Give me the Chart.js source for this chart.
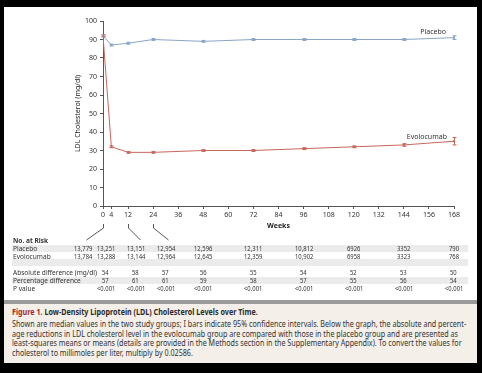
<!DOCTYPE html>
<html><head><meta charset="utf-8">
<script src="https://cdn.jsdelivr.net/npm/chart.js@4"></script>
<style>
html,body{margin:0;padding:0;background:#000;width:482px;height:373px;overflow:hidden;font-family:"Noto Sans",sans-serif;}
#panel{position:absolute;left:4px;top:7px;width:473px;height:293px;background:#fff;}
#strip{position:absolute;left:4px;top:300px;width:473px;height:4px;background:#9a9a9a;}
#caption{position:absolute;left:4px;top:304px;width:473px;height:59px;background:#f4efe8;color:#333;overflow:hidden;}
#wrap{position:absolute;left:0;top:0;width:482px;height:245px;}
.cell{position:absolute;font-size:7.5px;color:#333;white-space:nowrap;line-height:8px;transform-origin:0 50%;}
.band{position:absolute;left:12px;width:456px;height:7px;background:#ebebeb;}
.cl{position:absolute;left:8px;font-size:8.5px;white-space:nowrap;line-height:9.6px;color:#333;transform-origin:0 50%;}
.cl.t{font-weight:bold;color:#2b2b2b;}
</style></head>
<body>
<div id="panel"></div>
<div id="strip"></div>
<div id="caption">
<div class="cl t" id="capTitle" style="top:3px"><span style="color:#a8272b">Figure 1.</span> Low-Density Lipoprotein (LDL) Cholesterol Levels over Time.</div>
<div class="cl" id="cap1" style="top:15.2px">Shown are median values in the two study groups; I bars indicate 95% confidence intervals. Below the graph, the absolute and percent-</div>
<div class="cl" style="top:24.8px">age reductions in LDL cholesterol level in the evolocumab group are compared with those in the placebo group and are presented as</div>
<div class="cl" style="top:34.4px">least-squares means or means (details are provided in the Methods section in the Supplementary Appendix). To convert the values for</div>
<div class="cl" style="top:44px">cholesterol to millimoles per liter, multiply by 0.02586.</div>
</div>
<div id="wrap"><canvas id="c" width="482" height="245"></canvas></div>
<div id="table"></div>
<script>
// ---- data ----
const weeks = [0, 4, 12, 24, 48, 72, 96, 120, 144, 168];
const placeboLDL = [92, 87, 88, 90, 89, 90, 90, 90, 90, 91];
const placeboLo  = [91.5, 86.5, 87.5, 89.5, 88.5, 89.5, 89.5, 89.5, 89.5, 90];
const placeboHi  = [92.5, 87.5, 88.5, 90.5, 89.5, 90.5, 90.5, 90.5, 90.5, 92];
const evoLDL = [92, 32, 29, 29, 30, 30, 31, 32, 33, 35];
const evoLo  = [91.5, 31.5, 28.5, 28.5, 29.5, 29.5, 30.5, 31.5, 32.3, 33];
const evoHi  = [92.5, 32.5, 29.5, 29.5, 30.5, 30.5, 31.5, 32.5, 33.7, 37];
const xTicks = [0, 4, 12, 24, 36, 48, 60, 72, 84, 96, 108, 120, 132, 144, 156, 168];
const yTicks = [0, 10, 20, 30, 40, 50, 60, 70, 80, 90, 100];
const placeboRisk = ["13,779", "13,251", "13,151", "12,954", "12,596", "12,311", "10,812", "6926", "3352", "790"];
const evoRisk     = ["13,784", "13,288", "13,144", "12,964", "12,645", "12,359", "10,902", "6958", "3323", "768"];
const diffWeeks = [4, 12, 24, 48, 72, 96, 120, 144, 168];
const absDiff = ["54", "58", "57", "56", "55", "54", "52", "53", "50"];
const pctDiff = ["57", "61", "61", "59", "58", "57", "55", "56", "54"];
const pValue  = ["<0.001", "<0.001", "<0.001", "<0.001", "<0.001", "<0.001", "<0.001", "<0.001", "<0.001"];

const F = '"Noto Sans",sans-serif';
const AX = '#555';

const extras = {
  id: 'extras',
  afterDatasetsDraw(chart) {
    const c = chart.ctx, ys = chart.scales.y, xs = chart.scales.x;
    chart.data.datasets.forEach((ds, di) => {
      const meta = chart.getDatasetMeta(di);
      c.save();
      c.strokeStyle = ds.borderColor; c.lineWidth = 1;
      meta.data.forEach((pt, i) => {
        const x = Math.round(pt.x) + 0.5;
        const y1 = ys.getPixelForValue(ds.lo[i]), y2 = ys.getPixelForValue(ds.hi[i]);
        c.beginPath();
        c.moveTo(x, y1); c.lineTo(x, y2);
        c.moveTo(x - 2, y1); c.lineTo(x + 2, y1);
        c.moveTo(x - 2, y2); c.lineTo(x + 2, y2);
        c.stroke();
      });
      c.restore();
    });
    c.save();
    c.fillStyle = '#333'; c.font = '7px ' + F; c.textAlign = 'center'; c.textBaseline = 'middle';
    c.fillText('Placebo', xs.getPixelForValue(158), ys.getPixelForValue(94));
    c.fillText('Evolocumab', xs.getPixelForValue(155), ys.getPixelForValue(37.3));
    c.restore();
  },
  afterDraw(chart) {
    const c = chart.ctx, xs = chart.scales.x, b = chart.chartArea.bottom;
    const leaders = [[0, -17], [12, 12], [24, 15]];
    c.save(); c.strokeStyle = '#555'; c.lineWidth = 1;
    leaders.forEach(([w, dx]) => {
      const x = Math.round(xs.getPixelForValue(w)) + 0.5;
      c.beginPath(); c.moveTo(x, b + 18); c.lineTo(x, b + 22); c.lineTo(x + dx, b + 34); c.stroke();
    });
    c.restore();
  }
};

const chart = new Chart(document.getElementById('c'), {
  type: 'line',
  data: { datasets: [
    { label: 'Placebo', data: weeks.map((w, i) => ({x: w, y: placeboLDL[i]})), lo: placeboLo, hi: placeboHi,
      borderColor: '#8aa5c6', backgroundColor: '#8aa5c6', borderWidth: 1, pointRadius: 1.2, pointBorderWidth: 0, tension: 0 },
    { label: 'Evolocumab', data: weeks.map((w, i) => ({x: w, y: evoLDL[i]})), lo: evoLo, hi: evoHi,
      borderColor: '#c8675c', backgroundColor: '#c8675c', borderWidth: 1, pointRadius: 1.2, pointBorderWidth: 0, tension: 0 }
  ]},
  options: {
    responsive: false, animation: false, events: [],
    layout: { padding: { left: 70, right: 28, top: 21, bottom: 10 } },
    plugins: { legend: { display: false }, tooltip: { enabled: false } },
    scales: {
      x: {
        type: 'linear', min: 0, max: 168,
        afterBuildTicks: s => { s.ticks = xTicks.map(v => ({ value: v })); },
        grid: { drawOnChartArea: false, drawTicks: true, tickLength: 3, color: AX },
        border: { display: true, color: AX, width: 1 },
        ticks: { font: { size: 7, family: F }, color: '#333', padding: 2, maxRotation: 0, autoSkip: false },
        title: { display: true, text: 'Weeks', font: { size: 7, weight: 'bold', family: F }, color: '#222', padding: { top: 0, bottom: 5 } },
        afterFit: s => { s.height = 29; s.paddingLeft = 0; s.paddingRight = 0; }
      },
      y: {
        type: 'linear', min: 0, max: 100,
        afterBuildTicks: s => { s.ticks = yTicks.map(v => ({ value: v })); },
        grid: { drawOnChartArea: false, drawTicks: true, tickLength: 3, color: AX },
        border: { display: true, color: AX, width: 1 },
        ticks: { font: { size: 7, family: F }, color: '#333', padding: 3 },
        title: { display: true, text: 'LDL Cholesterol (mg/dl)', font: { size: 7, family: F }, color: '#222' },
        afterFit: s => { s.width = 33; s.paddingTop = 0; s.paddingBottom = 0; }
      }
    }
  },
  plugins: [extras]
});

// ---- caption: condense text to the reference line length ----
const capScale = 454 / document.getElementById('cap1').offsetWidth;
document.querySelectorAll('.cl').forEach(el => { el.style.transform = 'scaleX(' + capScale + ')'; });

// ---- table under the chart ----
const tbl = document.getElementById('table');
const xs = chart.scales.x;
const earlyCols = [83, 106, 136, 166];
const colX = weeks.map((w, i) => i < earlyCols.length ? earlyCols[i] : xs.getPixelForValue(w));
function band(top) { const d = document.createElement('div'); d.className = 'band'; d.style.top = top + 'px'; tbl.appendChild(d); }
const cells = [];
function cell(text, x, yc, kind, bold) {
  const d = document.createElement('div'); d.className = 'cell'; d.textContent = text;
  d.style.top = (yc - 4) + 'px';
  if (bold) d.style.fontWeight = 'bold';
  tbl.appendChild(d);
  cells.push({ d, x, kind });
  return d;
}
band(244.5); band(258.5); band(276.5);
cell('No. at Risk', 13, 240, 'label', true);
cell('Placebo', 13, 248, 'label');
cell('Evolocumab', 13, 255.5, 'label');
const refNum = cell(placeboRisk[0], colX[0], 248, 'num');
placeboRisk.slice(1).forEach((t, i) => cell(t, colX[i + 1], 248, 'num'));
evoRisk.forEach((t, i) => cell(t, colX[i], 255.5, 'num'));
const absLabel = cell('Absolute difference (mg/dl)', 13, 272, 'label');
cell('Percentage difference', 13, 280, 'label');
cell('P value', 13, 288, 'label');
diffWeeks.forEach((w, j) => {
  const x = colX[weeks.indexOf(w)];
  cell(absDiff[j], x, 272, 'num'); cell(pctDiff[j], x, 280, 'num'); cell(pValue[j], x, 288, 'num');
});
const labelScale = 84 / absLabel.offsetWidth;
const numScale = 18 / refNum.offsetWidth;
cells.forEach(({ d, x, kind }) => {
  const s = kind === 'label' ? labelScale : numScale;
  d.style.transform = 'scaleX(' + s + ')';
  d.style.left = (kind === 'label' ? x : x - d.offsetWidth * s / 2) + 'px';
});
</script>
</body></html>
